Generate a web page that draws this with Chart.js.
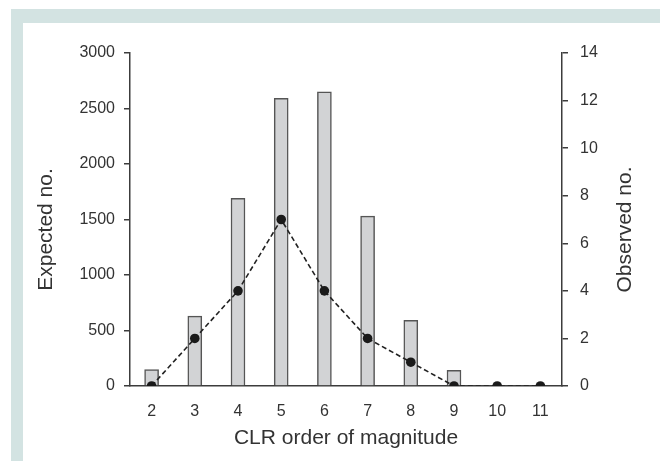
<!DOCTYPE html>
<html>
<head>
<meta charset="utf-8">
<script src="https://cdn.jsdelivr.net/npm/chart.js@4/dist/chart.umd.min.js"></script>
<style>
  html, body { margin: 0; padding: 0; background: #ffffff; }
  #frame { position: absolute; left: 11px; top: 9px; width: 649px; height: 452px; background: #d3e3e2; }
  #inner { position: absolute; left: 23px; top: 23px; width: 637px; height: 438px; background: #ffffff; }
  #c { position: absolute; left: 0; top: 0; }
</style>
</head>
<body>
<div id="frame"></div>
<div id="inner"></div>
<canvas id="c" width="660" height="461"></canvas>
<script>
const categories = ['2', '3', '4', '5', '6', '7', '8', '9', '10', '11'];
const expectedNo = [148, 630, 1690, 2592, 2650, 1530, 592, 141, 0, 0];
const observedNo = [0, 2, 4, 7, 4, 2, 1, 0, 0, 0];
const leftTitle = 'Expected no.';
const rightTitle = 'Observed no.';
const xTitle = 'CLR order of magnitude';

const FONT = "'Liberation Sans', Arial, sans-serif";
const AXIS = '#3c3c3c';
const TEXT = '#333333';
const plain = v => String(v);

// Both vertical axis titles read bottom-to-top, as in the reference.
const verticalTitles = {
  id: 'verticalTitles',
  afterDraw(chart) {
    const ctx = chart.ctx;
    const yMid = (chart.chartArea.top + chart.chartArea.bottom) / 2 + 10;
    const items = [
      { text: leftTitle, x: chart.scales.yL.left + 46 },
      { text: rightTitle, x: chart.scales.yR.right - 35 }
    ];
    ctx.save();
    ctx.fillStyle = TEXT;
    ctx.font = "21px " + FONT;
    ctx.textAlign = 'center';
    ctx.textBaseline = 'middle';
    items.forEach(it => {
      ctx.save();
      ctx.translate(it.x, yMid);
      ctx.rotate(-Math.PI / 2);
      ctx.fillText(it.text, 0, 0);
      ctx.restore();
    });
    ctx.restore();
  }
};

new Chart(document.getElementById('c'), {
  data: {
    labels: categories,
    datasets: [
      {
        type: 'line',
        label: rightTitle,
        data: observedNo,
        yAxisID: 'yR',
        order: 0,
        borderColor: '#222222',
        borderWidth: 1.6,
        borderDash: [5, 3],
        pointRadius: 4.8,
        pointBackgroundColor: '#1a1a1a',
        pointBorderColor: '#1a1a1a',
        pointBorderWidth: 0,
        tension: 0,
        fill: false
      },
      {
        type: 'bar',
        label: leftTitle,
        data: expectedNo,
        yAxisID: 'yL',
        order: 1,
        backgroundColor: '#d2d3d5',
        borderColor: '#555555',
        borderWidth: 1.5,
        barThickness: 14
      }
    ]
  },
  plugins: [verticalTitles],
  options: {
    responsive: false,
    animation: false,
    devicePixelRatio: 1,
    layout: { padding: { top: 53, left: 0, right: 0, bottom: 0 } },
    plugins: { legend: { display: false }, tooltip: { enabled: false } },
    scales: {
      x: {
        type: 'category',
        offset: true,
        grid: { display: true, drawOnChartArea: false, drawTicks: false },
        border: { display: true, color: AXIS, width: 1.5 },
        ticks: { color: TEXT, font: { family: FONT, size: 16 }, padding: 16, maxRotation: 0 },
        title: { display: true, text: xTitle, color: TEXT, font: { family: FONT, size: 21 }, padding: { top: 0, bottom: 10 } },
        afterFit: s => { s.height = 75; }
      },
      yL: {
        type: 'linear',
        position: 'left',
        min: 0, max: 3000,
        ticks: { stepSize: 500, color: TEXT, font: { family: FONT, size: 16 }, padding: 9, callback: plain },
        grid: { drawOnChartArea: false, drawTicks: true, tickLength: 6, color: AXIS, lineWidth: 1.5 },
        border: { display: true, color: AXIS, width: 1.5 },
        title: { display: false },
        afterFit: s => { s.width = 130; }
      },
      yR: {
        type: 'linear',
        position: 'right',
        min: 0, max: 14,
        ticks: { stepSize: 2, color: TEXT, font: { family: FONT, size: 16 }, padding: 12, callback: plain },
        grid: { drawOnChartArea: false, drawTicks: true, tickLength: 6, color: AXIS, lineWidth: 1.5 },
        border: { display: true, color: AXIS, width: 1.5 },
        title: { display: false },
        afterFit: s => { s.width = 98; }
      }
    }
  }
});
</script>
</body>
</html>
